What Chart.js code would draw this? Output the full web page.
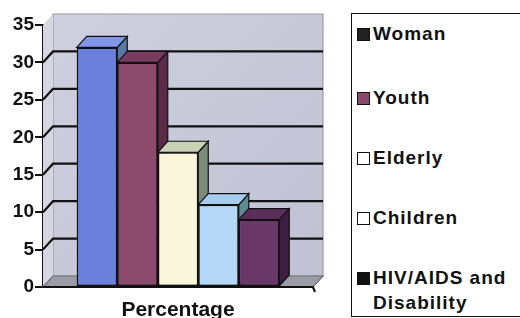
<!DOCTYPE html>
<html lang="en">
<head>
  <meta charset="UTF-8" />
  <title>Percentage chart</title>
  <script src="https://cdn.jsdelivr.net/npm/chart.js"></script>
  <style>
    html, body { margin: 0; padding: 0; background: #fff; }
    #wrap { position: relative; width: 520px; height: 318px; overflow: hidden; }
    #chartBox { position: absolute; left: 0; top: 0; width: 340px; height: 318px; }
    #legend { position: absolute; left: 351px; top: 13px; width: 175px; height: 302px; border: 1.5px solid #111; }
    .item { position: absolute; left: 5px; font-family: "Liberation Sans", Arial, sans-serif; font-weight: bold; font-size: 19px; letter-spacing: 1px; line-height: 25px; color: #111; white-space: nowrap; }
    .sw { display: inline-block; width: 11px; height: 11px; border: 1px solid #111; margin-right: 3px; vertical-align: top; margin-top: 7px; }
    .txt { display: inline-block; vertical-align: top; }
  </style>
</head>
<body>
  <div id="wrap">
    <div id="chartBox"><canvas id="chart" width="340" height="318"></canvas></div>
    <div id="legend"></div>
  </div>
  <script>
    // values
    const categories = ['Percentage'];
    const groups = ['Woman', 'Youth', 'Elderly', 'Children', 'HIV/AIDS and Disability'];
    const values = [32, 30, 18, 11, 9];
    const yTicks = [0, 5, 10, 15, 20, 25, 30, 35];

    // front / top / side colours of each bar, and the legend swatches
    const fronts = ['#6b7fdc', '#8c4a6c', '#faf6dc', '#b6d8f8', '#6a3868'];
    const tops = ['#8296e8', '#7a3c5e', '#c9d1b6', '#a6cdee', '#5a2e58'];
    const sides = ['#5a78a6', '#5a2a46', '#7c8c78', '#5e8a92', '#3e1e40'];
    const swatches = ['#222', '#8a4a70', '#fff', '#fff', '#111'];
    const legendTops = [7, 71, 131, 191, 251];

    const DX = 10, DY = -11;

    const legend = document.getElementById('legend');
    groups.forEach((g, i) => {
      const d = document.createElement('div');
      d.className = 'item';
      d.style.top = legendTops[i] + 'px';
      const label = g === 'HIV/AIDS and Disability' ? 'HIV/AIDS and<br>Disability' : g;
      d.innerHTML = '<span class="sw" style="background:' + swatches[i] + '"></span><span class="txt">' + label + '</span>';
      legend.appendChild(d);
    });

    function poly(ctx, pts, fill, stroke) {
      ctx.beginPath();
      ctx.moveTo(pts[0][0], pts[0][1]);
      for (let i = 1; i < pts.length; i++) ctx.lineTo(pts[i][0], pts[i][1]);
      ctx.closePath();
      ctx.fillStyle = fill;
      ctx.fill();
      if (stroke) { ctx.strokeStyle = stroke; ctx.lineWidth = 1.2; ctx.stroke(); }
    }

    const walls = {
      id: 'walls',
      beforeDatasetsDraw(chart) {
        const { ctx, chartArea: a, scales: { y } } = chart;
        ctx.save();
        // back wall
        const g = ctx.createLinearGradient(a.left, a.top + DY, a.right, a.bottom);
        g.addColorStop(0, '#cfd0de');
        g.addColorStop(1, '#c0c2d4');
        poly(ctx, [[a.left + DX, a.top + DY], [a.right + DX, a.top + DY], [a.right + DX, a.bottom + DY], [a.left + DX, a.bottom + DY]], g, '#9a9aa8');
        // left wall
        poly(ctx, [[a.left, a.top], [a.left + DX, a.top + DY], [a.left + DX, a.bottom + DY], [a.left, a.bottom]], '#d6d6e0');
        // floor
        poly(ctx, [[a.left, a.bottom], [a.left + DX, a.bottom + DY], [a.right + DX, a.bottom + DY], [a.right, a.bottom]], '#9c9ca6', '#6e6e78');
        // grid lines on wall
        ctx.strokeStyle = '#111';
        ctx.lineWidth = 2.2;
        yTicks.forEach(v => {
          if (v === 0 || v === 35) return;
          const py = y.getPixelForValue(v);
          ctx.beginPath();
          ctx.moveTo(a.left, py);
          ctx.lineTo(a.left + DX, py + DY);
          ctx.lineTo(a.right + DX, py + DY);
          ctx.stroke();
        });
        // front bottom edge
        ctx.beginPath();
        ctx.moveTo(a.left, a.bottom);
        ctx.lineTo(a.right, a.bottom);
        ctx.lineTo(a.right + 2, a.bottom + 5);
        ctx.stroke();
        ctx.restore();
      },
      afterDatasetsDraw(chart) {
        // redraw bars left to right: side, top, then the front face
        const { ctx } = chart;
        ctx.save();
        groups.forEach((g, i) => {
          const bar = chart.getDatasetMeta(i).data[0];
          if (!bar) return;
          const half = bar.width / 2;
          const l = bar.x - half, r = bar.x + half, t = bar.y, b = bar.base;
          poly(ctx, [[r, t], [r + DX, t + DY], [r + DX, b + DY], [r, b]], sides[i], '#111');
          poly(ctx, [[l, t], [l + DX, t + DY], [r + DX, t + DY], [r, t]], tops[i], '#111');
          bar.draw(ctx, chart.chartArea);
        });
        ctx.restore();
      }
    };

    new Chart(document.getElementById('chart'), {
      type: 'bar',
      data: {
        labels: categories,
        datasets: groups.map((g, i) => ({
          label: g,
          data: [values[i]],
          backgroundColor: fronts[i],
          borderColor: '#111',
          borderWidth: 1.5,
          borderSkipped: false
        }))
      },
      options: {
        responsive: false,
        animation: false,
        layout: { padding: { top: 25, right: 27, left: 0, bottom: 0 } },
        plugins: { legend: { display: false }, tooltip: { enabled: false } },
        datasets: { bar: { barPercentage: 1, categoryPercentage: 0.75 } },
        scales: {
          x: {
            grid: { display: false },
            border: { display: false },
            ticks: { color: '#111', font: { family: 'Liberation Sans', weight: 'bold', size: 21 }, padding: 3 },
            afterFit(s) { s.height = 31; }
          },
          y: {
            min: 0,
            max: 35,
            afterBuildTicks(s) { s.ticks = yTicks.map(v => ({ value: v })); },
            border: { display: true, color: '#111', width: 2.5 },
            grid: { drawOnChartArea: false, color: '#111', lineWidth: 2, tickLength: 8 },
            ticks: { color: '#111', font: { family: 'Liberation Sans', weight: 'bold', size: 19 }, padding: 1 },
            afterFit(s) { s.width = 43; }
          }
        }
      },
      plugins: [walls]
    });
  </script>
</body>
</html>
